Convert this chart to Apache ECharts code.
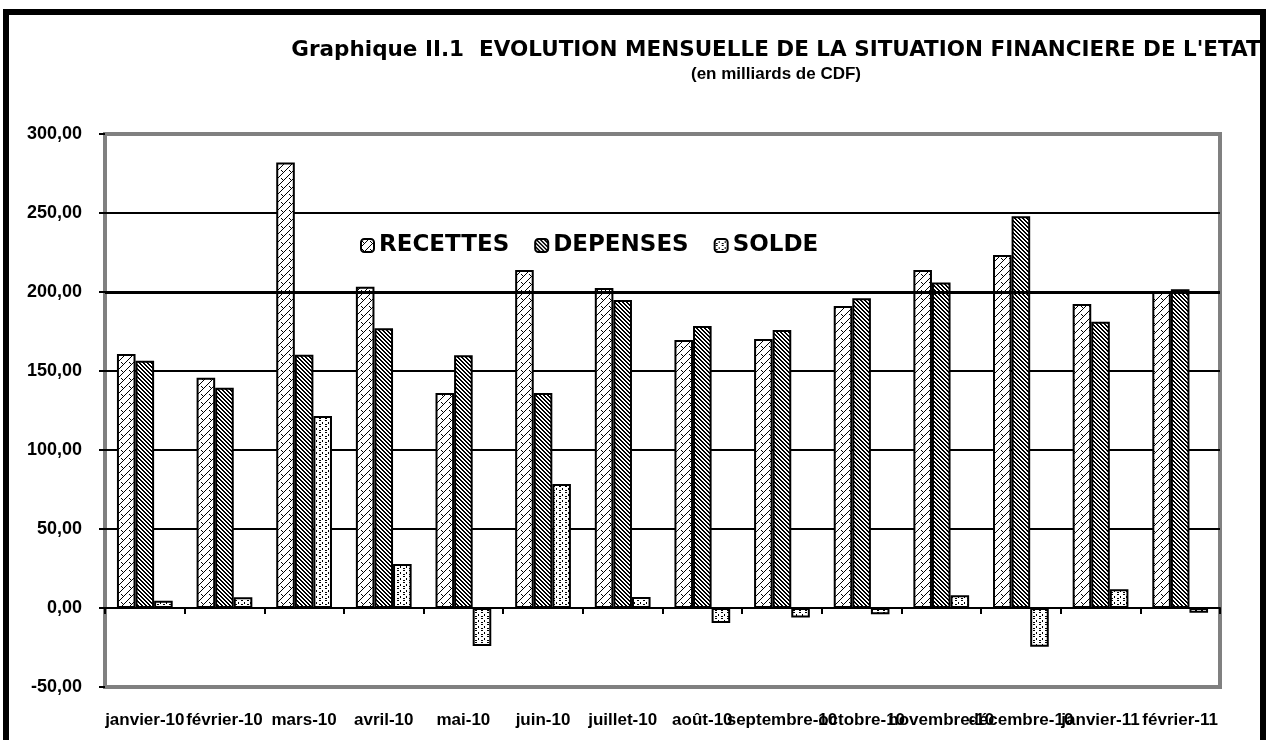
<!DOCTYPE html>
<html>
<head>
<meta charset="utf-8">
<script src="https://cdn.jsdelivr.net/npm/echarts@6/dist/echarts.min.js"></script>
<style>
  html, body { margin: 0; padding: 0; background: #fff; }
  #chart { width: 1267px; height: 740px; }
</style>
</head>
<body>
<div id="chart"></div>
<script>
const months = ['janvier-10', 'février-10', 'mars-10', 'avril-10', 'mai-10', 'juin-10', 'juillet-10',
  'août-10', 'septembre-10', 'octobre-10', 'novembre-10', 'décembre-10', 'janvier-11', 'février-11']
const recettes = [160.8, 145.8, 281.9, 203.4, 136.0, 214.0, 202.5, 169.6, 170.2, 191.2, 214.0, 223.4, 192.4, 200.2]
const depenses = [156.5, 139.4, 160.3, 177.0, 160.0, 136.0, 195.0, 178.5, 176.0, 196.0, 206.0, 248.0, 181.2, 201.7]
const solde = [4.6, 6.8, 121.5, 27.8, -24.0, 78.5, 7.0, -9.5, -6.0, -4.0, 8.0, -24.5, 11.8, -3.0]
const yTicks = [-50, 0, 50, 100, 150, 200, 250, 300]

// small canvas tiles used as fill patterns
function tile(w, h, draw) {
  const c = document.createElement('canvas')
  c.width = w
  c.height = h
  const ctx = c.getContext('2d')
  ctx.fillStyle = '#fff'
  ctx.fillRect(0, 0, w, h)
  ctx.fillStyle = '#000'
  ctx.strokeStyle = '#000'
  draw(ctx)
  return c
}

const wavePattern = tile(8, 8, ctx => {
  ctx.lineWidth = 1
  ctx.beginPath()
  ctx.moveTo(0, 8); ctx.lineTo(8, 0)
  ctx.moveTo(1, 2); ctx.lineTo(4, 5)
  ctx.stroke()
})

const stripePattern = tile(4, 4, ctx => {
  for (let i = 0; i < 4; i++) {
    ctx.fillRect(i, i, 1, 1)
    ctx.fillRect((i + 1) % 4, i, 1, 1)
  }
})

const dotPattern = tile(6, 6, ctx => {
  ctx.fillRect(1, 0, 2, 1)
  ctx.fillRect(4, 2, 1, 2)
  ctx.fillRect(1, 4, 2, 1)
})

const font = "'Liberation Sans', Arial, sans-serif"
const wideFont = "'DejaVu Sans', 'Liberation Sans', sans-serif"

function barSeries(name, data, pattern) {
  return {
    name: name,
    type: 'bar',
    data: data,
    barGap: '0%',
    barCategoryGap: '30%',
    itemStyle: {
      color: { image: pattern, repeat: 'repeat' },
      borderColor: '#000',
      borderWidth: 2
    }
  }
}

const chart = echarts.init(document.getElementById('chart'))
const series = [
  barSeries('RECETTES', recettes, wavePattern),
  barSeries('DEPENSES', depenses, stripePattern),
  barSeries('SOLDE', solde, dotPattern)
]
series[0].markLine = {
  silent: true,
  symbol: 'none',
  label: { show: false },
  lineStyle: { color: '#000', width: 3, type: 'solid' },
  data: [{ yAxis: 200 }]
}

chart.setOption({
  animation: false,
  textStyle: { fontFamily: font },
  title: [{
    text: "Graphique II.1  EVOLUTION MENSUELLE DE LA SITUATION FINANCIERE DE L'ETAT",
    subtext: '(en milliards de CDF)',
    left: 771,
    textAlign: 'center',
    top: 34,
    itemGap: 5,
    textStyle: { fontSize: 21.5, fontWeight: 'bold', color: '#000', fontFamily: wideFont },
    subtextStyle: { fontSize: 17, fontWeight: 'bold', color: '#000', fontFamily: font }
  }],
  legend: {
    left: 355,
    top: 229,
    itemWidth: 13,
    itemHeight: 13,
    itemGap: 25,
    textStyle: { fontSize: 23, fontWeight: 'bold', color: '#000', fontFamily: wideFont },
    itemStyle: { borderColor: '#000', borderWidth: 2 },
    data: ['RECETTES', 'DEPENSES', 'SOLDE']
  },
  grid: {
    left: 105,
    right: 47,
    top: 134,
    bottom: 53,
    show: true,
    borderColor: '#808080',
    borderWidth: 4,
    containLabel: false,
    outerBoundsMode: 'none'
  },
  xAxis: {
    type: 'category',
    data: months,
    axisLine: { onZero: true, lineStyle: { color: '#000', width: 2 } },
    axisTick: { show: true, inside: false, length: 6, lineStyle: { color: '#000', width: 2 } },
    axisLabel: {
      interval: 0,
      margin: 25,
      fontSize: 17,
      fontWeight: 'bold',
      color: '#000',
      fontFamily: font
    },
    splitLine: { show: false }
  },
  yAxis: {
    type: 'value',
    min: yTicks[0],
    max: yTicks[yTicks.length - 1],
    interval: 50,
    axisLine: { show: false },
    axisTick: { show: true, length: 6, lineStyle: { color: '#000', width: 2 } },
    axisLabel: {
      margin: 23,
      fontSize: 18,
      fontWeight: 'bold',
      color: '#000',
      fontFamily: font,
      formatter: v => v.toFixed(2).replace('.', ',')
    },
    splitLine: {
      show: true,
      lineStyle: {
        color: ['transparent', '#000', '#000', '#000', '#000', '#000', '#000', 'transparent'],
        width: 2
      }
    }
  },
  graphic: [{
    type: 'rect',
    shape: { x: 6, y: 12, width: 1257, height: 760 },
    style: { fill: 'none', stroke: '#000', lineWidth: 6 },
    silent: true
  }],
  series: series
})
</script>
</body>
</html>
